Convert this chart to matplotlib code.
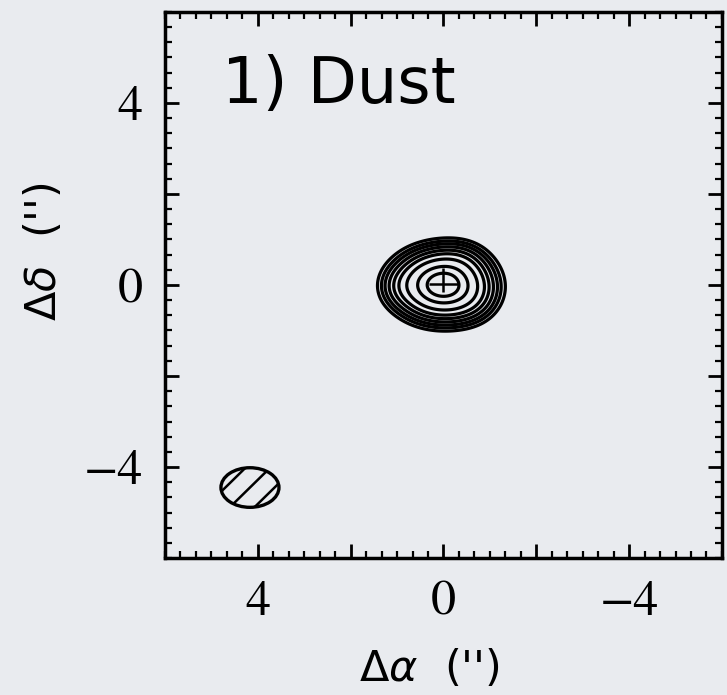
import numpy as np
import matplotlib.pyplot as plt
from matplotlib.patches import Ellipse
from matplotlib.ticker import AutoMinorLocator

# offsets in arcsec
tick_pos = [-4, -2, 0, 2, 4]
tick_text = ['\u22124', '', '0', '', '4']

# source model: (dx, dy, sigma_x, sigma_y, amplitude)
components = [
    (0.03, 0.0, 0.76, 0.57, 1.00),
    (-0.45, 0.65, 0.40, 0.32, 0.06),
    (-0.70, -0.45, 0.40, 0.40, 0.06),
    (1.05, -0.05, 0.30, 0.30, 0.05),
]
levels = [0.21, 0.26, 0.31, 0.37, 0.44, 0.52, 0.64, 0.80, 0.92]

# synthesized beam
beam_x, beam_y = 4.17, -4.45
beam_w, beam_h, beam_pa = 1.25, 0.87, 0.0
hatch_step = 0.53

# peak position and its uncertainty
peak_x, peak_y = 0.0, 0.02
peak_xerr = 0.32
peak_yerr = [[0.17], [0.35]]

bg = '#e9ebef'
fig = plt.figure(figsize=(7.27, 6.95), dpi=100, facecolor=bg)
ax = fig.add_axes([0.227, 0.197, 0.766, 0.786], facecolor=bg)

x = np.linspace(-6, 6, 601)
y = np.linspace(-6, 6, 601)
X, Y = np.meshgrid(x, y)
Z = np.zeros_like(X)
for dx, dy, sx, sy, amp in components:
    Z += amp * np.exp(-0.5 * (((X - dx) / sx) ** 2 + ((Y - dy) / sy) ** 2))

ax.contour(X, Y, Z, levels=levels, colors='black', linewidths=2.3)

ax.errorbar(peak_x, peak_y, xerr=peak_xerr, yerr=peak_yerr, fmt='none',
            ecolor='black', elinewidth=1.8, capsize=0)

beam = Ellipse((beam_x, beam_y), beam_w, beam_h, angle=beam_pa,
               facecolor='none', edgecolor='black', linewidth=2.4, zorder=3)
ax.add_patch(beam)
# sparse diagonal hatching clipped to the beam
hx = np.array([beam_x + 1.0, beam_x - 1.0])
for k in (-2, -1, 0, 1, 2):
    off = k * hatch_step
    ln, = ax.plot(hx + off, beam_y - (hx - beam_x), color='black', lw=1.8, zorder=2)
    ln.set_clip_path(beam)

ax.set_xlim(6, -6)
ax.set_ylim(-6, 6)

serif = {'family': 'STIXGeneral', 'size': 36}
ax.set_xticks(tick_pos)
ax.set_xticklabels(tick_text, fontdict=serif)
ax.set_yticks(tick_pos)
ax.set_yticklabels(tick_text, fontdict=serif)
ax.xaxis.set_minor_locator(AutoMinorLocator(6))
ax.yaxis.set_minor_locator(AutoMinorLocator(6))
ax.tick_params(which='both', direction='in', top=True, right=True, pad=16)
ax.tick_params(which='major', length=10, width=2)
ax.tick_params(which='minor', length=5, width=1.6)
for s in ax.spines.values():
    s.set_linewidth(2.5)

ax.set_xlabel(r"$\Delta\alpha$  ('')", fontsize=31, fontfamily='DejaVu Sans')
ax.set_ylabel(r"$\Delta\delta$  ('')", fontsize=31, fontfamily='DejaVu Sans')
ax.xaxis.set_label_coords(0.475, -0.165)
ax.yaxis.set_label_coords(-0.18, 0.56)

ax.text(0.102, 0.833, '1) Dust', transform=ax.transAxes, fontsize=46,
        fontfamily='DejaVu Sans', va='baseline', ha='left')

fig.savefig('out.png', dpi=100, facecolor=bg)
